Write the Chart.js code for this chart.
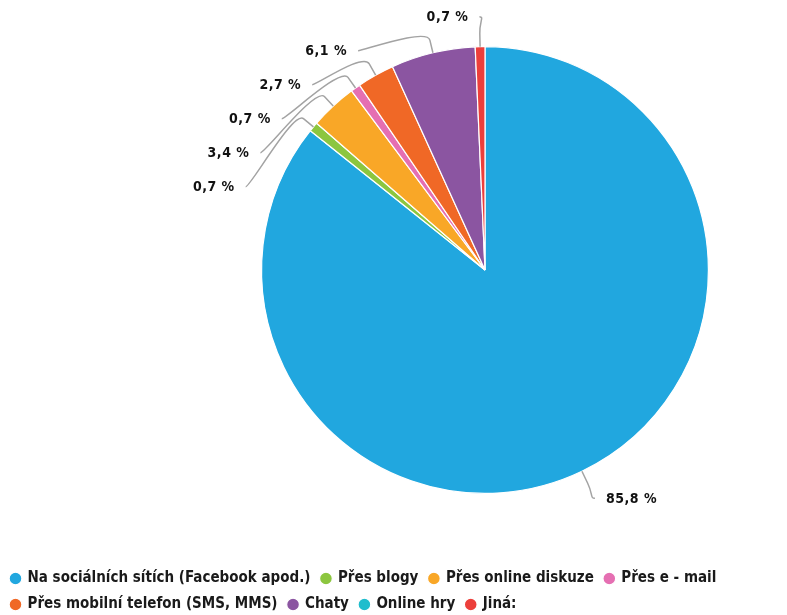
<!DOCTYPE html>
<html>
<head>
<meta charset="utf-8">
<script src="https://cdn.jsdelivr.net/npm/chart.js@4"></script>
<style>
  body { margin: 0; background: #fff; }
  #wrap { width: 787px; height: 615px; }
</style>
</head>
<body>
<div id="wrap"><canvas id="pieChart" width="787" height="615"></canvas></div>
<script>
// data
const categories = [
    'Na sociálních sítích (Facebook apod.)',
    'Přes blogy',
    'Přes online diskuze',
    'Přes e - mail',
    'Přes mobilní telefon (SMS, MMS)',
    'Chaty',
    'Online hry',
    'Jiná:'
];
const values = [85.8, 0.7, 3.4, 0.7, 2.7, 6.1, 0, 0.7];
const colors = ['#21a7df', '#8cc63f', '#f9a727', '#e56fb2', '#f06826', '#8b55a1', '#1fbdcd', '#ec3f3b'];

const FONT = "'DejaVu Sans Condensed', 'DejaVu Sans', sans-serif";

// plocha kolacu (stred 485,270, polomer 224)
const pieBox = { cx: 485, cy: 270, r: 224 };

function fmt(v) {
    return v.toFixed(1).replace('.', ',') + ' %';
}

// posunuti kolacu po layoutu
const placePlugin = {
    id: 'placePie',
    afterLayout(chart) {
        const a = chart.chartArea;
        a.left = pieBox.cx - pieBox.r;
        a.right = pieBox.cx + pieBox.r;
        a.top = pieBox.cy - pieBox.r;
        a.bottom = pieBox.cy + pieBox.r;
        a.width = a.right - a.left;
        a.height = a.bottom - a.top;
    }
};

// popisky mimo kolac se spojnicemi
const outLabels = {
    id: 'outLabels',
    afterDatasetsDraw(chart) {
        const ctx = chart.ctx;
        const meta = chart.getDatasetMeta(0);
        const items = [];
        meta.data.forEach((arc, i) => {
            if (!values[i]) return;
            const p = arc.getProps(['x', 'y', 'startAngle', 'endAngle', 'outerRadius'], true);
            const mid = (p.startAngle + p.endAngle) / 2;
            const R = p.outerRadius + 30;
            items.push({
                i, mid, cx: p.x, cy: p.y, r: p.outerRadius, R,
                left: Math.cos(mid) < 0,
                y: p.y + Math.sin(mid) * R
            });
        });
        const gap = 34;
        [true, false].forEach(side => {
            const list = items.filter(it => it.left === side).sort((a, b) => a.y - b.y);
            for (let k = 1; k < list.length; k++) {
                if (list[k].y < list[k - 1].y + gap) list[k].y = list[k - 1].y + gap;
            }
        });
        ctx.save();
        items.forEach(it => {
            const dy = it.y - it.cy;
            const dx = Math.sqrt(Math.max(0, it.R * it.R - dy * dy));
            const lx = it.cx + (it.left ? -dx : dx);
            const cos = Math.cos(it.mid), sin = Math.sin(it.mid);
            const touch = { x: it.cx + cos * it.r, y: it.cy + sin * it.r };
            const brk = { x: it.cx + cos * (it.r + 13), y: it.cy + sin * (it.r + 13) };
            ctx.beginPath();
            ctx.moveTo(lx, it.y);
            ctx.bezierCurveTo(lx + (it.left ? 5 : -5), it.y, 2 * brk.x - touch.x, 2 * brk.y - touch.y, brk.x, brk.y);
            ctx.lineTo(touch.x, touch.y);
            ctx.strokeStyle = '#a3a3a3';
            ctx.lineWidth = 1.5;
            ctx.stroke();

            ctx.fillStyle = '#111';
            ctx.font = 'bold 14px ' + FONT;
            ctx.letterSpacing = '0.5px';
            ctx.textBaseline = 'middle';
            ctx.textAlign = it.left ? 'right' : 'left';
            ctx.fillText(fmt(values[it.i]), lx + (it.left ? -11 : 11), it.y + 1);
        });
        ctx.restore();
    }
};

// legenda o kousek niz
const legendShift = {
    id: 'legendShift',
    afterLayout(chart) {
        const lg = chart.legend;
        lg.top += 7;
        lg.bottom += 7;
    }
};

new Chart(document.getElementById('pieChart'), {
    type: 'pie',
    data: {
        labels: categories,
        datasets: [{
            data: values,
            backgroundColor: colors,
            borderColor: '#ffffff',
            borderWidth: 1.2
        }]
    },
    options: {
        responsive: false,
        animation: false,
        devicePixelRatio: 1,
        plugins: {
            legend: {
                position: 'bottom',
                align: 'start',
                labels: {
                    usePointStyle: true,
                    pointStyle: 'circle',
                    boxWidth: 9,
                    boxHeight: 9,
                    padding: 11,
                    color: '#1a1a1a',
                    font: { family: FONT, size: 15, weight: 'bold' }
                }
            },
            tooltip: { enabled: false }
        }
    },
    plugins: [placePlugin, outLabels, legendShift]
});
</script>
</body>
</html>
